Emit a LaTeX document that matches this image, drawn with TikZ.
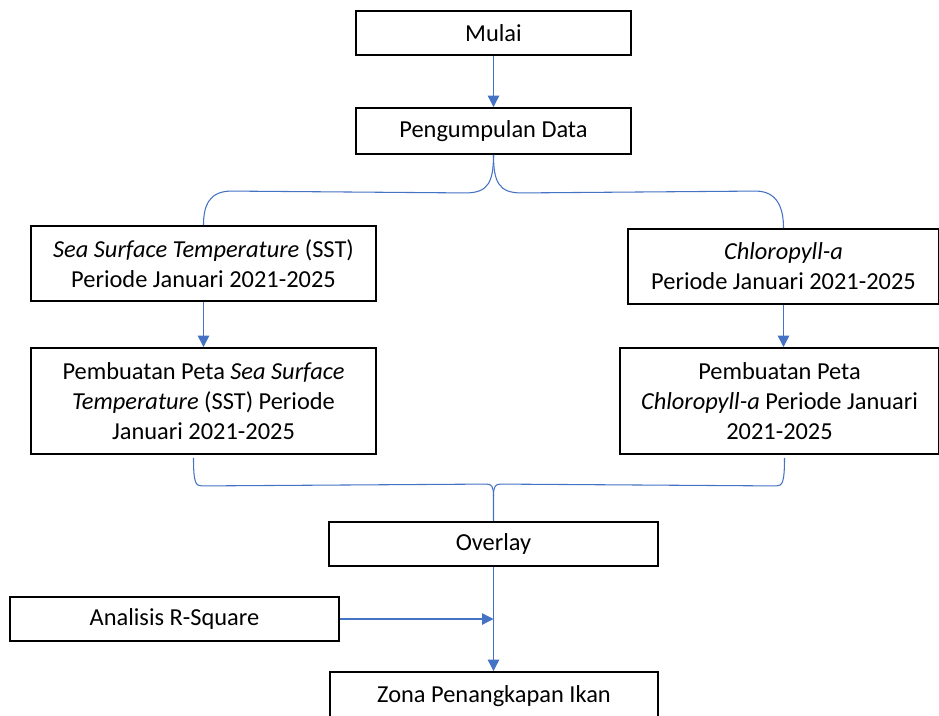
\documentclass[tikz,border=0pt]{standalone}
\usepackage{fontspec}
\setmainfont{Carlito}
\usetikzlibrary{arrows.meta,calc}
\definecolor{conblue}{HTML}{4472C4}
\tikzset{
  box/.style={draw=black, line width=1.4pt, fill=white, align=center, inner sep=0pt,
    font=\fontsize{18.3}{22.5}\selectfont},
  conn/.style={draw=conblue, line width=0.8pt},
  arr/.style={conn, -{Triangle[length=8.5pt,width=8.5pt]}}
}
\begin{document}
\begin{tikzpicture}[x=0.75pt,y=-0.75pt]
\useasboundingbox (0,0) rectangle (939,715);
\node[box, minimum width=206.25pt, minimum height=33pt] (mulai) at (493.5,33) {Mulai};
\node[box, minimum width=206.25pt, minimum height=34.5pt] (peng) at (493.5,131) {Pengumpulan Data};
\node[box, minimum width=258.75pt, minimum height=56.25pt] (sst) at (203.5,263.5) {\textit{Sea Surface Temperature} (SST)\\Periode Januari 2021-2025};
\node[box, minimum width=233.25pt, minimum height=56.25pt] (chl) at (783.5,266.5) {\textit{Chloropyll-a}\\Periode Januari 2021-2025};
\node[box, minimum width=258.75pt, minimum height=79.5pt] (ppsst) at (203.5,401) {Pembuatan Peta \textit{Sea Surface}\\\textit{Temperature} (SST) Periode\\Januari 2021-2025};
\node[box, minimum width=239.25pt, minimum height=79.5pt] (ppchl) at (779.5,401) {Pembuatan Peta\\\textit{Chloropyll-a} Periode Januari\\2021-2025};
\node[box, minimum width=246.75pt, minimum height=33pt] (ov) at (493.5,544) {Overlay};
\node[box, minimum width=246.75pt, minimum height=33pt] (an) at (174.5,619) {Analisis R-Square};
\node[box, minimum width=246pt, minimum height=36pt] (zona) at (494,696) {Zona Penangkapan Ikan};

% arrows
\draw[arr] (mulai.south) -- (peng.north);
\draw[arr] (sst.south) -- (ppsst.north);
\draw[arr] (chl.south) -- (chl.south |- ppchl.north);
\draw[arr] (ov.south) -- (ov.south |- zona.north);
\coordinate (meet) at (ov.south |- an.east);
\draw[arr] (an.east) -- (meet);

% upper brace
\draw[conn] (peng.south) .. controls +(0,28) and +(22,0) .. ($(peng.south)+(-28,38)$)
  -- ($(sst.north)+(28,-34)$) .. controls +(-22,0) and +(0,-20) .. (sst.north);
\draw[conn] (peng.south) .. controls +(0,28) and +(-22,0) .. ($(peng.south)+(28,38)$)
  -- ($(chl.north)+(-28,-37)$) .. controls +(22,0) and +(0,-20) .. (chl.north);

% lower brace
\draw[conn] ($(ppsst.south)+(-10,3)$) .. controls +(0,24) and +(-6,0) .. ($(ppsst.south)+(-2,31)$)
  -- ($(ov.north)+(-7,-37)$) .. controls +(5,0) and +(0,-10) .. ($(ov.north)+(0,-25)$) -- (ov.north);
\draw[conn] ($(ppchl.south)+(5,3)$) .. controls +(0,24) and +(6,0) .. ($(ppchl.south)+(-3,31)$)
  -- ($(ov.north)+(7,-37)$) .. controls +(-5,0) and +(0,-10) .. ($(ov.north)+(0,-25)$);
\end{tikzpicture}
\end{document}
